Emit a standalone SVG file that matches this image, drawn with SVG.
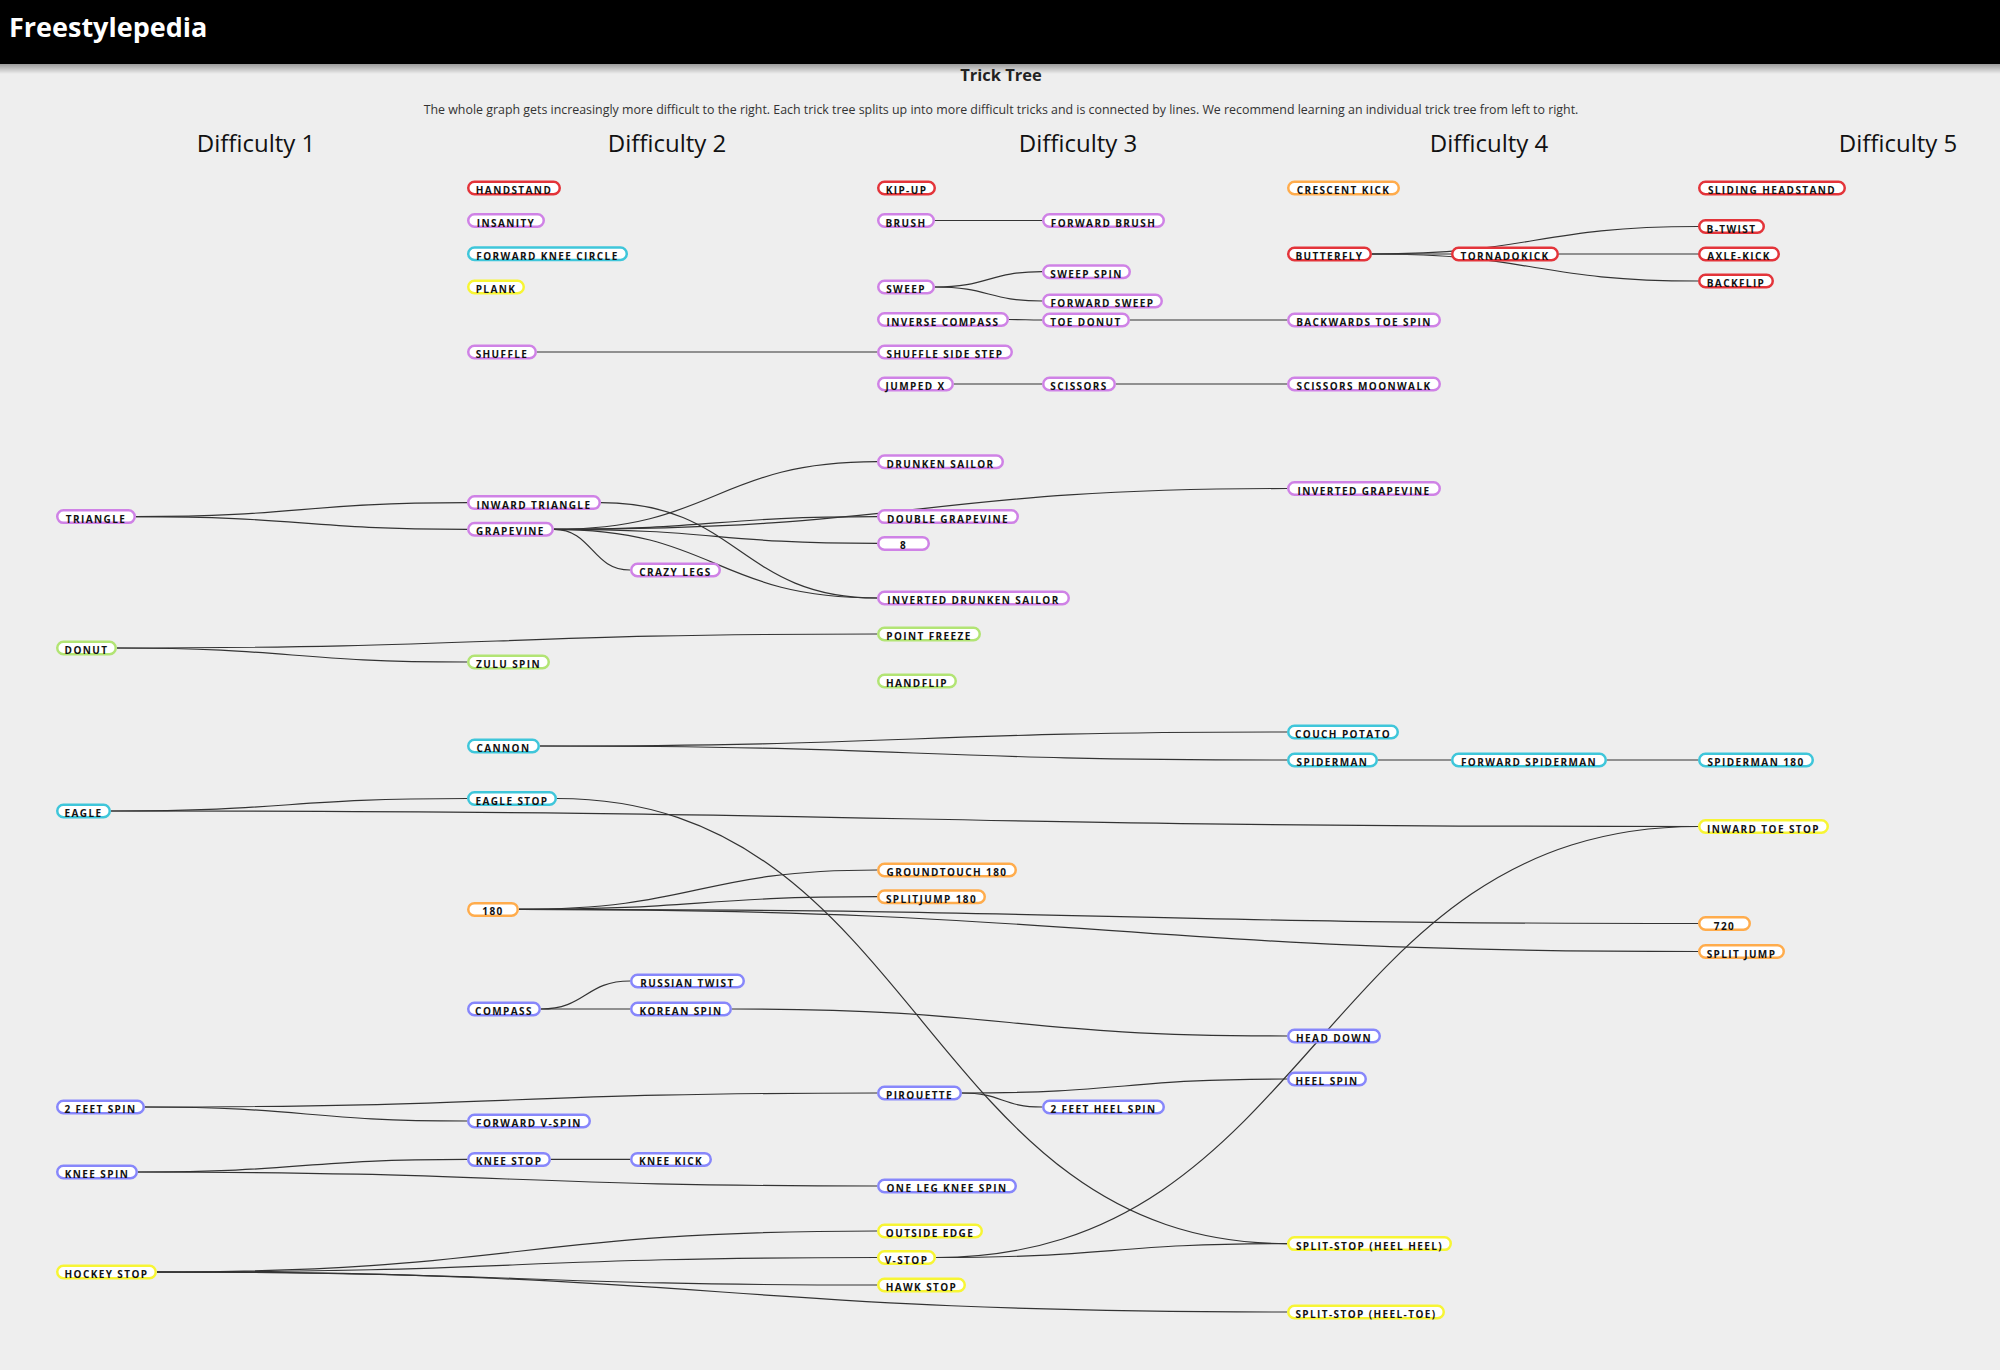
<svg xmlns="http://www.w3.org/2000/svg" width="2000" height="1370" viewBox="0 0 2000 1370">
<defs>
<linearGradient id="shadow" x1="0" y1="0" x2="0" y2="1">
<stop offset="0" stop-color="#000" stop-opacity="0.35"/>
<stop offset="1" stop-color="#000" stop-opacity="0"/>
</linearGradient>
</defs>
<style>
.bg{fill:#eeeeee}
.title{font-family:"Open Sans","Noto Sans",sans-serif;font-weight:700;font-size:27px;fill:#fff}
.h2{font-family:"Open Sans","Noto Sans",sans-serif;font-weight:700;font-size:16.5px;fill:#222;text-anchor:middle}
.sub{font-family:"Open Sans","Noto Sans",sans-serif;font-size:12.4px;fill:#333;text-anchor:middle}
.diff{font-family:"Open Sans","Noto Sans",sans-serif;font-size:24px;fill:#111;text-anchor:middle}
.links path{fill:none;stroke:#333;stroke-width:1.2}
.node rect{fill:#fff;stroke-width:2.5}
.node text{font-family:"Open Sans","Noto Sans",sans-serif;font-weight:700;font-size:10px;letter-spacing:1.4px;fill:#111;text-anchor:middle}
.red rect{stroke:#e3343a}
.pur rect{stroke:#cf82e6}
.cya rect{stroke:#3fc6da}
.yel rect{stroke:#f7f534}
.grn rect{stroke:#b2e474}
.org rect{stroke:#ffac4c}
.blu rect{stroke:#8787fb}
</style>
<rect class="bg" x="0" y="0" width="2000" height="1370"/>
<rect x="0" y="64" width="2000" height="10" fill="url(#shadow)"/>
<rect x="0" y="0" width="2000" height="64" fill="#000"/>
<text class="title" x="9" y="37">Freestylepedia</text>
<text class="h2" x="1001" y="81">Trick Tree</text>
<text class="sub" x="1001" y="114">The whole graph gets increasingly more difficult to the right. Each trick tree splits up into more difficult tricks and is connected by lines. We recommend learning an individual trick tree from left to right.</text>
<text class="diff" x="256" y="152">Difficulty 1</text>
<text class="diff" x="667" y="152">Difficulty 2</text>
<text class="diff" x="1078" y="152">Difficulty 3</text>
<text class="diff" x="1489" y="152">Difficulty 4</text>
<text class="diff" x="1898" y="152">Difficulty 5</text>

<g class="links">
<path d="M935,220.5 C988.5,220.5 988.5,220.5 1042,220.5"/>
<path d="M935,287 C988.5,287 988.5,271.7 1042,271.7"/>
<path d="M935,287 C988.5,287 988.5,301 1042,301"/>
<path d="M1009,319.5 C1025.5,319.5 1025.5,320 1042,320"/>
<path d="M1130,320 C1208.5,320 1208.5,320 1287,320"/>
<path d="M537,352 C707,352 707,352 877,352"/>
<path d="M954,384 C998,384 998,384 1042,384"/>
<path d="M1116,384 C1201.5,384 1201.5,384 1287,384"/>
<path d="M1372,254 C1411.5,254 1411.5,254 1451,254"/>
<path d="M1372,254 C1535,254 1535,226.5 1698,226.5"/>
<path d="M1372,254 C1535,254 1535,281 1698,281"/>
<path d="M1559,254 C1628.5,254 1628.5,254 1698,254"/>
<path d="M136,516.6 C301.5,516.6 301.5,502.6 467,502.6"/>
<path d="M136,516.6 C301.5,516.6 301.5,529.3 467,529.3"/>
<path d="M554,529.3 C715.5,529.3 715.5,461.7 877,461.7"/>
<path d="M554,529.3 C715.5,529.3 715.5,516.6 877,516.6"/>
<path d="M554,529.3 C715.5,529.3 715.5,543.4 877,543.4"/>
<path d="M554,529.3 C715.5,529.3 715.5,598 877,598"/>
<path d="M554,529.3 C592,529.3 592,570 630,570"/>
<path d="M601,502.6 C739,502.6 739,598 877,598"/>
<path d="M554,529.3 C920.5,529.3 920.5,488.5 1287,488.5"/>
<path d="M117,648 C497,648 497,634 877,634"/>
<path d="M117,648 C292,648 292,662 467,662"/>
<path d="M540,746 C913.5,746 913.5,732 1287,732"/>
<path d="M540,746 C913.5,746 913.5,760 1287,760"/>
<path d="M1378,760 C1414.5,760 1414.5,760 1451,760"/>
<path d="M1607,760 C1652.5,760 1652.5,760 1698,760"/>
<path d="M111,811 C289,811 289,798.5 467,798.5"/>
<path d="M111,811 C904.5,811 904.5,826.5 1698,826.5"/>
<path d="M557,798.5 C922,798.5 922,1243.6 1287,1243.6"/>
<path d="M519,909.4 C698,909.4 698,870 877,870"/>
<path d="M519,909.4 C698,909.4 698,896.7 877,896.7"/>
<path d="M519,909.4 C1108.5,909.4 1108.5,923.5 1698,923.5"/>
<path d="M519,909.4 C1108.5,909.4 1108.5,951.5 1698,951.5"/>
<path d="M541,1009 C585.5,1009 585.5,981 630,981"/>
<path d="M541,1009 C585.5,1009 585.5,1009 630,1009"/>
<path d="M732,1009 C1009.5,1009 1009.5,1036 1287,1036"/>
<path d="M145,1107 C511,1107 511,1093 877,1093"/>
<path d="M145,1107 C306,1107 306,1121 467,1121"/>
<path d="M962,1093 C1124.5,1093 1124.5,1079 1287,1079"/>
<path d="M962,1093 C1002,1093 1002,1107 1042,1107"/>
<path d="M138,1172 C302.5,1172 302.5,1159.4 467,1159.4"/>
<path d="M551,1159.4 C590.5,1159.4 590.5,1159.4 630,1159.4"/>
<path d="M138,1172 C507.5,1172 507.5,1186 877,1186"/>
<path d="M157,1272 C517,1272 517,1231 877,1231"/>
<path d="M157,1272 C517,1272 517,1257.5 877,1257.5"/>
<path d="M157,1272 C517,1272 517,1285 877,1285"/>
<path d="M157,1272 C722,1272 722,1312 1287,1312"/>
<path d="M936,1257.5 C1111.5,1257.5 1111.5,1243.6 1287,1243.6"/>
<path d="M936,1257.5 C1317,1257.5 1317,826.5 1698,826.5"/>
</g>

<g id="n-handstand" class="node red"><rect x="468.25" y="181.75" width="91.5" height="12.5" rx="6.25"/><text x="514" y="194">HANDSTAND</text></g>
<g id="n-insanity" class="node pur"><rect x="468.25" y="214.25" width="75.5" height="12.5" rx="6.25"/><text x="506" y="226.5">INSANITY</text></g>
<g id="n-forward-knee-circle" class="node cya"><rect x="468.25" y="247.55" width="158.5" height="12.5" rx="6.25"/><text x="547.5" y="259.8">FORWARD KNEE CIRCLE</text></g>
<g id="n-plank" class="node yel"><rect x="468.25" y="280.75" width="55.5" height="12.5" rx="6.25"/><text x="496" y="293">PLANK</text></g>
<g id="n-shuffle" class="node pur"><rect x="468.25" y="345.75" width="67.5" height="12.5" rx="6.25"/><text x="502" y="358">SHUFFLE</text></g>
<g id="n-inward-triangle" class="node pur"><rect x="468.25" y="496.35" width="131.5" height="12.5" rx="6.25"/><text x="534" y="508.6">INWARD TRIANGLE</text></g>
<g id="n-grapevine" class="node pur"><rect x="468.25" y="523.05" width="84.5" height="12.5" rx="6.25"/><text x="510.5" y="535.3">GRAPEVINE</text></g>
<g id="n-crazy-legs" class="node pur"><rect x="631.25" y="563.75" width="88.5" height="12.5" rx="6.25"/><text x="675.5" y="576">CRAZY LEGS</text></g>
<g id="n-zulu-spin" class="node grn"><rect x="468.25" y="655.75" width="80.5" height="12.5" rx="6.25"/><text x="508.5" y="668">ZULU SPIN</text></g>
<g id="n-cannon" class="node cya"><rect x="468.25" y="739.75" width="70.5" height="12.5" rx="6.25"/><text x="503.5" y="752">CANNON</text></g>
<g id="n-eagle-stop" class="node cya"><rect x="468.25" y="792.25" width="87.5" height="12.5" rx="6.25"/><text x="512" y="804.5">EAGLE STOP</text></g>
<g id="n-180" class="node org"><rect x="468.25" y="903.15" width="49.5" height="12.5" rx="6.25"/><text x="493" y="915.4">180</text></g>
<g id="n-russian-twist" class="node blu"><rect x="631.25" y="974.75" width="112.5" height="12.5" rx="6.25"/><text x="687.5" y="987">RUSSIAN TWIST</text></g>
<g id="n-compass" class="node blu"><rect x="468.25" y="1002.75" width="71.5" height="12.5" rx="6.25"/><text x="504" y="1015">COMPASS</text></g>
<g id="n-korean-spin" class="node blu"><rect x="631.25" y="1002.75" width="99.5" height="12.5" rx="6.25"/><text x="681" y="1015">KOREAN SPIN</text></g>
<g id="n-forward-v-spin" class="node blu"><rect x="468.25" y="1114.75" width="121.5" height="12.5" rx="6.25"/><text x="529" y="1127">FORWARD V-SPIN</text></g>
<g id="n-knee-stop" class="node blu"><rect x="468.25" y="1153.15" width="81.5" height="12.5" rx="6.25"/><text x="509" y="1165.4">KNEE STOP</text></g>
<g id="n-knee-kick" class="node blu"><rect x="631.25" y="1153.15" width="79.5" height="12.5" rx="6.25"/><text x="671" y="1165.4">KNEE KICK</text></g>

<g id="n-triangle" class="node pur"><rect x="57.25" y="510.35" width="77.5" height="12.5" rx="6.25"/><text x="96" y="522.6">TRIANGLE</text></g>
<g id="n-donut" class="node grn"><rect x="57.25" y="641.75" width="58.5" height="12.5" rx="6.25"/><text x="86.5" y="654">DONUT</text></g>
<g id="n-eagle" class="node cya"><rect x="57.25" y="804.75" width="52.5" height="12.5" rx="6.25"/><text x="83.5" y="817">EAGLE</text></g>
<g id="n-2-feet-spin" class="node blu"><rect x="57.25" y="1100.75" width="86.5" height="12.5" rx="6.25"/><text x="100.5" y="1113">2 FEET SPIN</text></g>
<g id="n-knee-spin" class="node blu"><rect x="57.25" y="1165.75" width="79.5" height="12.5" rx="6.25"/><text x="97" y="1178">KNEE SPIN</text></g>
<g id="n-hockey-stop" class="node yel"><rect x="57.25" y="1265.75" width="98.5" height="12.5" rx="6.25"/><text x="106.5" y="1278">HOCKEY STOP</text></g>

<g id="n-kip-up" class="node red"><rect x="878.25" y="181.75" width="56.5" height="12.5" rx="6.25"/><text x="906.5" y="194">KIP-UP</text></g>
<g id="n-brush" class="node pur"><rect x="878.25" y="214.25" width="55.5" height="12.5" rx="6.25"/><text x="906" y="226.5">BRUSH</text></g>
<g id="n-sweep" class="node pur"><rect x="878.25" y="280.75" width="55.5" height="12.5" rx="6.25"/><text x="906" y="293">SWEEP</text></g>
<g id="n-inverse-compass" class="node pur"><rect x="878.25" y="313.25" width="129.5" height="12.5" rx="6.25"/><text x="943" y="325.5">INVERSE COMPASS</text></g>
<g id="n-shuffle-side-step" class="node pur"><rect x="878.25" y="345.75" width="133.5" height="12.5" rx="6.25"/><text x="945" y="358">SHUFFLE SIDE STEP</text></g>
<g id="n-jumped-x" class="node pur"><rect x="878.25" y="377.75" width="74.5" height="12.5" rx="6.25"/><text x="915.5" y="390">JUMPED X</text></g>
<g id="n-drunken-sailor" class="node pur"><rect x="878.25" y="455.45" width="124.5" height="12.5" rx="6.25"/><text x="940.5" y="467.7">DRUNKEN SAILOR</text></g>
<g id="n-double-grapevine" class="node pur"><rect x="878.25" y="510.35" width="139.5" height="12.5" rx="6.25"/><text x="948" y="522.6">DOUBLE GRAPEVINE</text></g>
<g id="n-8" class="node pur"><rect x="878.25" y="537.15" width="50.5" height="12.5" rx="6.25"/><text x="903.5" y="549.4">8</text></g>
<g id="n-inverted-drunken-sailor" class="node pur"><rect x="878.25" y="591.75" width="190.5" height="12.5" rx="6.25"/><text x="973.5" y="604">INVERTED DRUNKEN SAILOR</text></g>
<g id="n-point-freeze" class="node grn"><rect x="878.25" y="627.75" width="101.5" height="12.5" rx="6.25"/><text x="929" y="640">POINT FREEZE</text></g>
<g id="n-handflip" class="node grn"><rect x="878.25" y="674.75" width="77.5" height="12.5" rx="6.25"/><text x="917" y="687">HANDFLIP</text></g>
<g id="n-groundtouch-180" class="node org"><rect x="878.25" y="863.75" width="137.5" height="12.5" rx="6.25"/><text x="947" y="876">GROUNDTOUCH 180</text></g>
<g id="n-splitjump-180" class="node org"><rect x="878.25" y="890.45" width="106.5" height="12.5" rx="6.25"/><text x="931.5" y="902.7">SPLITJUMP 180</text></g>
<g id="n-pirouette" class="node blu"><rect x="878.25" y="1086.75" width="82.5" height="12.5" rx="6.25"/><text x="919.5" y="1099">PIROUETTE</text></g>
<g id="n-one-leg-knee-spin" class="node blu"><rect x="878.25" y="1179.75" width="137.5" height="12.5" rx="6.25"/><text x="947" y="1192">ONE LEG KNEE SPIN</text></g>
<g id="n-outside-edge" class="node yel"><rect x="878.25" y="1224.75" width="103.5" height="12.5" rx="6.25"/><text x="930" y="1237">OUTSIDE EDGE</text></g>
<g id="n-v-stop" class="node yel"><rect x="878.25" y="1251.25" width="56.5" height="12.5" rx="6.25"/><text x="906.5" y="1263.5">V-STOP</text></g>
<g id="n-hawk-stop" class="node yel"><rect x="878.25" y="1278.75" width="86.5" height="12.5" rx="6.25"/><text x="921.5" y="1291">HAWK STOP</text></g>

<g id="n-forward-brush" class="node pur"><rect x="1043.25" y="214.25" width="120.5" height="12.5" rx="6.25"/><text x="1103.5" y="226.5">FORWARD BRUSH</text></g>
<g id="n-sweep-spin" class="node pur"><rect x="1043.25" y="265.45" width="86.5" height="12.5" rx="6.25"/><text x="1086.5" y="277.7">SWEEP SPIN</text></g>
<g id="n-forward-sweep" class="node pur"><rect x="1043.25" y="294.75" width="118.5" height="12.5" rx="6.25"/><text x="1102.5" y="307">FORWARD SWEEP</text></g>
<g id="n-toe-donut" class="node pur"><rect x="1043.25" y="313.75" width="85.5" height="12.5" rx="6.25"/><text x="1086" y="326">TOE DONUT</text></g>
<g id="n-scissors" class="node pur"><rect x="1043.25" y="377.75" width="71.5" height="12.5" rx="6.25"/><text x="1079" y="390">SCISSORS</text></g>
<g id="n-2-feet-heel-spin" class="node blu"><rect x="1043.25" y="1100.75" width="120.5" height="12.5" rx="6.25"/><text x="1103.5" y="1113">2 FEET HEEL SPIN</text></g>

<g id="n-crescent-kick" class="node org"><rect x="1288.25" y="181.75" width="110.5" height="12.5" rx="6.25"/><text x="1343.5" y="194">CRESCENT KICK</text></g>
<g id="n-butterfly" class="node red"><rect x="1288.25" y="247.75" width="82.5" height="12.5" rx="6.25"/><text x="1329.5" y="260">BUTTERFLY</text></g>
<g id="n-backwards-toe-spin" class="node pur"><rect x="1288.25" y="313.75" width="151.5" height="12.5" rx="6.25"/><text x="1364" y="326">BACKWARDS TOE SPIN</text></g>
<g id="n-scissors-moonwalk" class="node pur"><rect x="1288.25" y="377.75" width="151.5" height="12.5" rx="6.25"/><text x="1364" y="390">SCISSORS MOONWALK</text></g>
<g id="n-inverted-grapevine" class="node pur"><rect x="1288.25" y="482.25" width="151.5" height="12.5" rx="6.25"/><text x="1364" y="494.5">INVERTED GRAPEVINE</text></g>
<g id="n-couch-potato" class="node cya"><rect x="1288.25" y="725.75" width="109.5" height="12.5" rx="6.25"/><text x="1343" y="738">COUCH POTATO</text></g>
<g id="n-spiderman" class="node cya"><rect x="1288.25" y="753.75" width="88.5" height="12.5" rx="6.25"/><text x="1332.5" y="766">SPIDERMAN</text></g>
<g id="n-head-down" class="node blu"><rect x="1288.25" y="1029.75" width="91.5" height="12.5" rx="6.25"/><text x="1334" y="1042">HEAD DOWN</text></g>
<g id="n-heel-spin" class="node blu"><rect x="1288.25" y="1072.75" width="77.5" height="12.5" rx="6.25"/><text x="1327" y="1085">HEEL SPIN</text></g>
<g id="n-split-stop-heel-heel" class="node yel"><rect x="1288.25" y="1237.35" width="162.5" height="12.5" rx="6.25"/><text x="1369.5" y="1249.6">SPLIT-STOP (HEEL HEEL)</text></g>
<g id="n-split-stop-heel-toe" class="node yel"><rect x="1288.25" y="1305.75" width="155.5" height="12.5" rx="6.25"/><text x="1366" y="1318">SPLIT-STOP (HEEL-TOE)</text></g>

<g id="n-tornadokick" class="node red"><rect x="1452.25" y="247.75" width="105.5" height="12.5" rx="6.25"/><text x="1505" y="260">TORNADOKICK</text></g>
<g id="n-forward-spiderman" class="node cya"><rect x="1452.25" y="753.75" width="153.5" height="12.5" rx="6.25"/><text x="1529" y="766">FORWARD SPIDERMAN</text></g>

<g id="n-sliding-headstand" class="node red"><rect x="1699.25" y="181.75" width="145.5" height="12.5" rx="6.25"/><text x="1772" y="194">SLIDING HEADSTAND</text></g>
<g id="n-b-twist" class="node red"><rect x="1699.25" y="220.25" width="64.5" height="12.5" rx="6.25"/><text x="1731.5" y="232.5">B-TWIST</text></g>
<g id="n-axle-kick" class="node red"><rect x="1699.25" y="247.75" width="79.5" height="12.5" rx="6.25"/><text x="1739" y="260">AXLE-KICK</text></g>
<g id="n-backflip" class="node red"><rect x="1699.25" y="274.75" width="73.5" height="12.5" rx="6.25"/><text x="1736" y="287">BACKFLIP</text></g>
<g id="n-spiderman-180" class="node cya"><rect x="1699.25" y="753.75" width="113.5" height="12.5" rx="6.25"/><text x="1756" y="766">SPIDERMAN 180</text></g>
<g id="n-inward-toe-stop" class="node yel"><rect x="1699.25" y="820.25" width="128.5" height="12.5" rx="6.25"/><text x="1763.5" y="832.5">INWARD TOE STOP</text></g>
<g id="n-720" class="node org"><rect x="1699.25" y="917.25" width="50.5" height="12.5" rx="6.25"/><text x="1724.5" y="929.5">720</text></g>
<g id="n-split-jump" class="node org"><rect x="1699.25" y="945.25" width="84.5" height="12.5" rx="6.25"/><text x="1741.5" y="957.5">SPLIT JUMP</text></g>
</svg>
